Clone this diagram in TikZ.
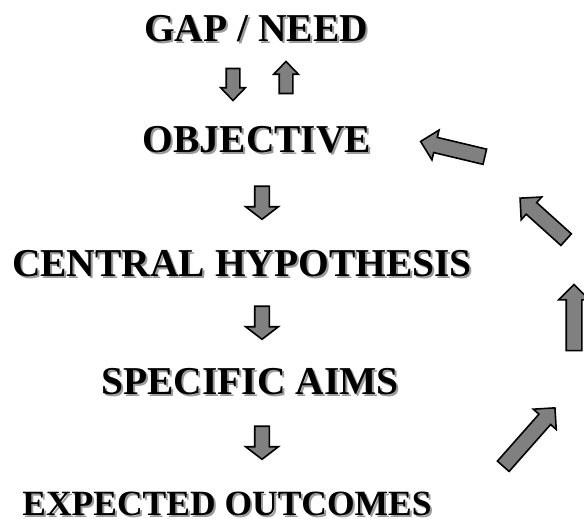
\documentclass[tikz,border=0pt]{standalone}
\usepackage{fontspec}
\setmainfont{Liberation Serif}
\usetikzlibrary{shapes.arrows}
\definecolor{arrgray}{HTML}{808080}
\definecolor{shadowgray}{HTML}{9A9A9A}
\newcommand{\shadowtext}[1]{\makebox[0pt][l]{\kern2pt\raisebox{-2pt}{\textcolor{shadowgray}{#1}}}#1}
\tikzset{
  lbl/.style={font=\fontsize{39.5}{40}\selectfont\bfseries, anchor=base, inner sep=0pt, text=black},
  blockarr/.style={single arrow, draw=black, fill=arrgray, line width=1.6pt, inner xsep=0pt, minimum width=1pt},
  smallarr/.style={blockarr, inner ysep=6pt, single arrow head extend=5.5pt, single arrow tip angle=88, minimum height=32pt},
  downarr/.style={blockarr, inner ysep=6.5pt, single arrow head extend=9pt, single arrow tip angle=105, minimum height=33pt},
  bigarr/.style={blockarr, inner ysep=7pt, single arrow head extend=7.5pt, single arrow tip angle=90}
}
\begin{document}
\begin{tikzpicture}[x=1pt,y=1pt]
\useasboundingbox (0,0) rectangle (584,519);
\node[lbl] (gap) at (256,477) {\shadowtext{GAP / NEED}};
\node[lbl] (obj) at (257,366) {\shadowtext{OBJECTIVE}};
\node[lbl] (hyp) at (242,242) {\shadowtext{CENTRAL HYPOTHESIS}};
\node[lbl] (aims) at (250,124) {\shadowtext{SPECIFIC AIMS}};
\node[lbl, font=\fontsize{35.5}{36}\selectfont\bfseries] (out) at (227,3) {\shadowtext{EXPECTED OUTCOMES}};
% small arrows between GAP / NEED and OBJECTIVE
\node[smallarr, rotate=-90] (gapdown) at (233,438) {};
\node[smallarr, rotate=90] (gapup) at (286,438) {};
% down arrows
\node[downarr, rotate=-90] (d1) at (262,319) {};
\node[downarr, rotate=-90] (d2) at (262,199) {};
\node[downarr, rotate=-90] (d3) at (262,79) {};
% feedback loop arrows
\node[bigarr, minimum height=66pt, rotate=166.6] (f1) at (456.5,369) {};
\node[bigarr, minimum height=62pt, rotate=138] (f2) at (546,297.5) {};
\node[bigarr, minimum height=66pt, rotate=90] (f3) at (574,197.5) {};
\node[bigarr, minimum height=78pt, rotate=48.5] (f4) at (526.5,79) {};
\end{tikzpicture}
\end{document}
